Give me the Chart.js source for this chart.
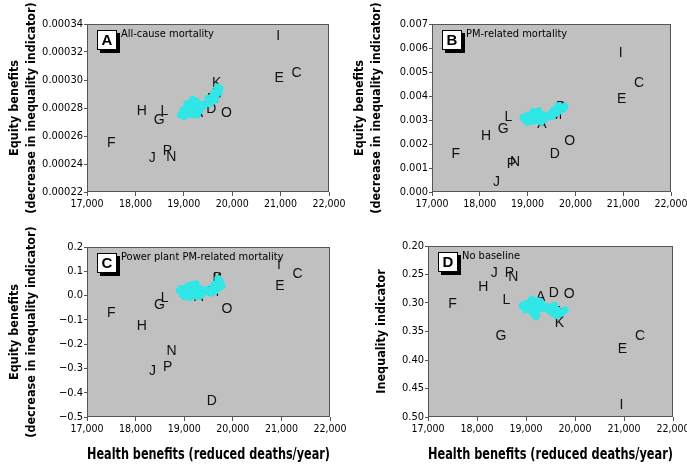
<!DOCTYPE html>
<html>
<head>
<meta charset="utf-8">
<script src="https://cdn.jsdelivr.net/npm/chart.js@4/dist/chart.umd.min.js"></script>
<style>
  body { margin: 0; background: #fff; }
  .panel { position: absolute; }
</style>
</head>
<body>
<div class="panel" style="left:0;top:0"><canvas id="chartA" width="360" height="222"></canvas></div>
<div class="panel" style="left:345px;top:0"><canvas id="chartB" width="342" height="222"></canvas></div>
<div class="panel" style="left:0;top:225px"><canvas id="chartC" width="360" height="243"></canvas></div>
<div class="panel" style="left:345px;top:225px"><canvas id="chartD" width="342" height="243"></canvas></div>
<script>
// Scenario letters and their health benefits (reduced deaths/year)
const letters = ['A','B','C','D','E','F','G','H','I','J','K','L','M','N','O','P'];
const healthBenefits = [19300, 19690, 21330, 19570, 20970, 17500, 18490, 18130, 20950, 18350, 19680, 18600, 19600, 18740, 19880, 18660];

// Equity benefit / inequality values per panel, same order as letters
const equityAllCause = [0.000276, 0.000290, 0.000305, 0.000279, 0.000301, 0.000255, 0.000271, 0.000278, 0.000331, 0.000244, 0.000298, 0.000278, 0.000286, 0.000245, 0.000276, 0.000249];
const equityPM = [0.00283, 0.00354, 0.00454, 0.00158, 0.00388, 0.00158, 0.00262, 0.00233, 0.00579, 0.00042, 0.00350, 0.00313, 0.00320, 0.00125, 0.00213, 0.00117];
const equityPowerPlant = [-0.006, 0.072, 0.089, -0.434, 0.040, -0.072, -0.039, -0.125, 0.126, -0.310, 0.068, -0.010, 0.015, -0.228, -0.055, -0.294];
const inequalityNoBaseline = [0.289, 0.319, 0.358, 0.283, 0.381, 0.302, 0.358, 0.272, 0.479, 0.247, 0.335, 0.295, 0.316, 0.254, 0.284, 0.247];

// Cyan clusters (sensitivity runs)
const clusterAx = [18930, 18970, 19010, 19050, 19090, 19120, 19150, 19180, 19210, 19240, 19270, 19300, 19330, 19360, 19040, 19110, 19170, 19230, 19280, 19080, 19200, 19400, 19440, 19480, 19520, 19550, 19580, 19610, 19640, 19670, 19700, 19730, 19750, 19560, 19620, 19690, 18990, 19140, 19320, 19060, 19190, 19260, 19500, 19660];
const clusterAy = [0.000275, 0.000277, 0.000274, 0.000279, 0.000276, 0.000281, 0.000278, 0.000283, 0.000279, 0.000282, 0.000277, 0.000280, 0.000278, 0.000281, 0.000276, 0.000278, 0.000275, 0.000276, 0.000275, 0.000280, 0.000284, 0.000281, 0.000283, 0.000284, 0.000283, 0.000286, 0.000288, 0.000286, 0.000290, 0.000289, 0.000292, 0.000291, 0.000294, 0.000284, 0.000291, 0.000295, 0.000279, 0.000284, 0.000283, 0.000283, 0.000286, 0.000285, 0.000287, 0.000286];

const clusterBx = [18900, 18940, 18980, 19020, 19060, 19100, 19140, 19180, 19220, 19260, 19300, 19340, 18960, 19040, 19120, 19200, 19280, 19080, 19160, 19240, 19380, 19420, 19460, 19500, 19540, 19580, 19620, 19660, 19700, 19740, 19780, 19520, 19600, 19680, 19760, 19000, 19320, 19110, 19230, 19560, 19640];
const clusterBy = [0.00310, 0.00315, 0.00305, 0.00320, 0.00312, 0.00325, 0.00318, 0.00330, 0.00322, 0.00315, 0.00305, 0.00300, 0.00298, 0.00302, 0.00295, 0.00300, 0.00292, 0.00308, 0.00310, 0.00308, 0.00318, 0.00312, 0.00322, 0.00330, 0.00325, 0.00335, 0.00340, 0.00345, 0.00350, 0.00355, 0.00358, 0.00315, 0.00328, 0.00338, 0.00348, 0.00290, 0.00322, 0.00335, 0.00340, 0.00345, 0.00360];

const clusterCx = [18900, 18940, 18980, 19020, 19060, 19100, 19140, 19180, 19220, 19260, 19300, 19340, 19380, 18960, 19040, 19120, 19200, 19280, 19080, 19160, 19420, 19460, 19500, 19540, 19580, 19620, 19660, 19700, 19740, 19780, 19560, 19640, 19720, 19690, 19000, 19240, 19120, 19330, 19600];
const clusterCy = [0.020, 0.030, 0.010, 0.025, 0.035, 0.015, 0.040, 0.020, 0.030, 0.005, 0.015, 0.000, 0.010, 0.005, 0.010, 0.000, 0.000, -0.005, 0.040, 0.045, 0.020, 0.025, 0.015, 0.020, 0.030, 0.035, 0.050, 0.045, 0.060, 0.040, 0.010, 0.020, 0.030, 0.070, -0.005, 0.050, -0.008, 0.030, 0.045];

const clusterDx = [18920, 18960, 19000, 19040, 19080, 19120, 19160, 19200, 19240, 19280, 19320, 19360, 18980, 19060, 19140, 19220, 19300, 19100, 19180, 19400, 19440, 19480, 19520, 19560, 19600, 19640, 19680, 19720, 19760, 19800, 19540, 19620, 19700, 19130, 19260, 19200, 19580];
const clusterDy = [0.305, 0.302, 0.308, 0.300, 0.312, 0.298, 0.306, 0.315, 0.303, 0.310, 0.300, 0.308, 0.312, 0.306, 0.318, 0.320, 0.305, 0.295, 0.310, 0.310, 0.306, 0.314, 0.312, 0.308, 0.316, 0.312, 0.320, 0.318, 0.315, 0.312, 0.318, 0.322, 0.316, 0.293, 0.296, 0.324, 0.304];

const xTicks = ['17,000', '18,000', '19,000', '20,000', '21,000', '22,000'];

const narrow = "'DejaVu Sans Condensed', 'Liberation Sans Narrow', sans-serif";
const sans = "'Liberation Sans', Arial, sans-serif";

function points(xs, ys) {
    return xs.map((x, i) => ({ x: x, y: ys[i] }));
}

// Gray plot area, letter labels, frame and the panel tag box
const panelPlugin = {
    id: 'panel',
    beforeDraw(chart) {
        const { ctx, chartArea: a } = chart;
        ctx.save();
        ctx.fillStyle = '#c0c0c0';
        ctx.fillRect(a.left, a.top, a.right - a.left, a.bottom - a.top);
        ctx.restore();
    },
    beforeDatasetsDraw(chart) {
        const { ctx } = chart;
        const meta = chart.getDatasetMeta(0);
        ctx.save();
        ctx.fillStyle = '#111';
        ctx.font = '14px ' + sans;
        ctx.textAlign = 'center';
        ctx.textBaseline = 'middle';
        meta.data.forEach((pt, i) => {
            ctx.fillText(letters[i], pt.x, pt.y);
        });
        ctx.restore();
    },
    afterDraw(chart, args, opts) {
        const { ctx, chartArea: a } = chart;
        ctx.save();
        ctx.strokeStyle = '#555';
        ctx.lineWidth = 1;
        ctx.strokeRect(a.left + 0.5, a.top + 0.5, a.right - a.left - 1, a.bottom - a.top - 1);

        const bx = a.left + 10, by = a.top + 6;
        ctx.fillStyle = '#000';
        ctx.fillRect(bx + 3, by + 3, 20, 20);
        ctx.fillStyle = '#fff';
        ctx.fillRect(bx, by, 20, 20);
        ctx.strokeStyle = '#000';
        ctx.strokeRect(bx + 0.5, by + 0.5, 19, 19);
        ctx.fillStyle = '#000';
        ctx.font = 'bold 15px ' + sans;
        ctx.textAlign = 'center';
        ctx.textBaseline = 'middle';
        ctx.fillText(opts.tag, bx + 10, by + 11);

        ctx.font = '11px ' + narrow;
        ctx.textAlign = 'left';
        ctx.fillText(opts.subtitle, a.left + 34, a.top + 10);
        ctx.restore();
    }
};

function makeChart(id, cfg) {
    new Chart(document.getElementById(id), {
        type: 'scatter',
        data: {
            datasets: [{
                data: points(healthBenefits, cfg.values),
                pointRadius: 0,
                pointHoverRadius: 0
            }, {
                data: points(cfg.clusterX, cfg.clusterY),
                pointRadius: 3.5,
                pointBorderWidth: 0,
                backgroundColor: '#30e6e6',
                borderColor: '#30e6e6'
            }]
        },
        options: {
            responsive: false,
            animation: false,
            devicePixelRatio: 1,
            layout: { padding: cfg.padding },
            plugins: {
                legend: { display: false },
                tooltip: { enabled: false },
                panel: { tag: cfg.tag, subtitle: cfg.subtitle }
            },
            scales: {
                x: {
                    type: 'linear',
                    min: 17000,
                    max: 22000,
                    grid: { drawOnChartArea: false, color: '#555', tickLength: 4 },
                    border: { display: false },
                    ticks: {
                        stepSize: 1000,
                        color: '#000',
                        padding: 2,
                        maxRotation: 0,
                        font: { family: narrow, size: 10.5 },
                        callback: (v) => xTicks[Math.round((v - 17000) / 1000)]
                    },
                    title: {
                        display: cfg.xTitle,
                        text: 'Health benefits (reduced deaths/year)',
                        color: '#000',
                        font: { family: narrow, size: 15, weight: 'bold', lineHeight: 1.1 },
                        padding: { top: 0, bottom: 5 }
                    },
                    afterFit(scale) {
                        scale.height = cfg.xHeight;
                        scale.paddingLeft = 0;
                        scale.paddingRight = 0;
                    }
                },
                y: {
                    min: cfg.yMin,
                    max: cfg.yMax,
                    reverse: !!cfg.reverse,
                    grid: { drawOnChartArea: false, color: '#555', tickLength: 3 },
                    border: { display: false },
                    ticks: {
                        stepSize: cfg.yStep,
                        color: '#000',
                        padding: 1,
                        font: { family: narrow, size: 11 },
                        callback: cfg.yFormat
                    },
                    title: {
                        display: true,
                        text: cfg.yTitle,
                        color: '#000',
                        font: { family: narrow, size: 12.5, weight: 'bold', lineHeight: 1.3 },
                        padding: { top: cfg.yTitlePad, bottom: 0 }
                    },
                    afterFit(scale) {
                        scale.width = cfg.yWidth;
                        scale.paddingTop = 0;
                        scale.paddingBottom = 0;
                    }
                }
            }
        },
        plugins: [panelPlugin]
    });
}

const equityTitle = ['Equity benefits', '(decrease in inequality indicator)'];

makeChart('chartA', {
    tag: 'A', subtitle: 'All-cause mortality',
    values: equityAllCause, clusterX: clusterAx, clusterY: clusterAy,
    yMin: 0.00022, yMax: 0.00034, yStep: 0.00002,
    yFormat: (v) => v.toFixed(5),
    yTitle: equityTitle, yTitlePad: 7, yWidth: 87,
    xTitle: false, xHeight: 30,
    padding: { top: 24, right: 31, bottom: 0, left: 0 }
});

makeChart('chartB', {
    tag: 'B', subtitle: 'PM-related mortality',
    values: equityPM, clusterX: clusterBx, clusterY: clusterBy,
    yMin: 0, yMax: 0.007, yStep: 0.001,
    yFormat: (v) => v.toFixed(3),
    yTitle: equityTitle, yTitlePad: 7, yWidth: 87,
    xTitle: false, xHeight: 30,
    padding: { top: 24, right: 16, bottom: 0, left: 0 }
});

makeChart('chartC', {
    tag: 'C', subtitle: 'Power plant PM-related mortality',
    values: equityPowerPlant, clusterX: clusterCx, clusterY: clusterCy,
    yMin: -0.5, yMax: 0.2, yStep: 0.1,
    yFormat: (v) => (v < -0.001 ? '\u2212' + Math.abs(v).toFixed(1) : Math.abs(v).toFixed(1)),
    yTitle: equityTitle, yTitlePad: 7, yWidth: 87,
    xTitle: true, xHeight: 51,
    padding: { top: 22, right: 30, bottom: 0, left: 0 }
});

makeChart('chartD', {
    tag: 'D', subtitle: 'No baseline',
    values: inequalityNoBaseline, clusterX: clusterDx, clusterY: clusterDy,
    yMin: 0.2, yMax: 0.5, yStep: 0.05, reverse: true,
    yFormat: (v) => v.toFixed(2),
    yTitle: 'Inequality indicator', yTitlePad: 29, yWidth: 83,
    xTitle: true, xHeight: 51,
    padding: { top: 21, right: 14, bottom: 0, left: 0 }
});
</script>
</body>
</html>
